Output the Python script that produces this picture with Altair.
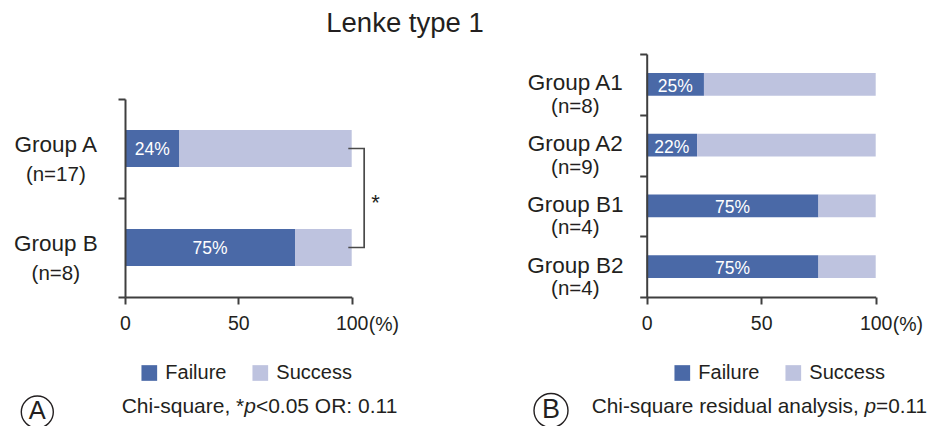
import altair as alt
import pandas as pd

FONT = "Liberation Sans"
INK = "#231f20"
AXIS_INK = "#3f3f3f"

# ---- data -------------------------------------------------------------
panel_a_groups = ["Group A", "Group B"]
panel_a_n = [17, 8]
panel_a_failure = [24, 75]

panel_b_groups = ["Group A1", "Group A2", "Group B1", "Group B2"]
panel_b_n = [8, 9, 4, 4]
panel_b_failure = [25, 22, 75, 75]

outcomes = ["Failure", "Success"]
outcome_colors = ["#4a69a7", "#bec3df"]
x_ticks = [0, 50, 100]

BAR_HALF = 0.188  # half bar thickness, in category units


def segments(groups, counts, failure):
    rows = []
    k = len(groups)
    for i, (g, n, f) in enumerate(zip(groups, counts, failure)):
        pos = k - i - 0.5
        common = dict(group=g, n=f"(n={n})", pos=pos,
                      lo=pos - BAR_HALF, hi=pos + BAR_HALF)
        rows.append(dict(common, outcome="Failure", start=0, end=f,
                         mid=f / 2, pct=f"{f}%"))
        rows.append(dict(common, outcome="Success", start=f, end=100,
                         mid=(f + 100) / 2, pct=f"{100 - f}%"))
    return pd.DataFrame(rows)


def panel(df, x_range, y_top, label_x, name_dy, n_dy, pct_dy, legend_x):
    """Layers of one stacked-bar panel; every layer carries the same scales."""
    k = df["group"].nunique()
    x_scale = alt.Scale(domain=[0, 100], range=x_range, nice=False, zero=False)
    y_scale = alt.Scale(domain=[0, k], range=[297, y_top], nice=False, zero=False)

    def X(field, **kw):
        return alt.X(field, scale=x_scale, **({"axis": None} | kw))

    def Y(field, **kw):
        return alt.Y(field, scale=y_scale, **({"axis": None} | kw))

    bars = alt.Chart(df).mark_bar().encode(
        x=X("start:Q", axis=alt.Axis(
            values=x_ticks, orient="bottom", grid=False,
            title="(%)", titleX=x_range[1] + 16.5, titleY=33,
            titleAlign="left", titleBaseline="alphabetic", titleAngle=0,
            titleFont=FONT, titleFontSize=19.5, titleFontWeight="normal",
            titleColor=INK,
            domainColor=AXIS_INK, domainWidth=2, tickColor=AXIS_INK,
            tickWidth=2, tickSize=7, labelFont=FONT, labelFontSize=19.5,
            labelColor=INK, labelPadding=10, labelFlush=False,
            labelOverlap=False, zindex=1,
            labelExpr="datum.value == 100 ? '100\u00a0\u00a0' : datum.label")),
        x2="end:Q",
        y=Y("lo:Q", axis=alt.Axis(
            values=list(range(k + 1)), orient="left", offset=-x_range[0],
            labels=False, title=None, grid=False, domainColor=AXIS_INK,
            domainWidth=2, tickColor=AXIS_INK, tickWidth=2, tickSize=7,
            zindex=1)),
        y2="hi:Q",
        color=alt.Color("outcome:N",
                        scale=alt.Scale(domain=outcomes, range=outcome_colors),
                        legend=alt.Legend(
                            title=None, orient="none", legendX=legend_x,
                            legendY=363, direction="horizontal",
                            symbolType="square", symbolSize=246,
                            symbolStrokeWidth=0, labelFont=FONT,
                            labelFontSize=20, labelColor=INK, labelOffset=6,
                            columnPadding=23, padding=0)),
    )

    fail = df[df["outcome"] == "Failure"]
    pct = alt.Chart(fail).mark_text(
        font=FONT, fontSize=17.5, color="white", baseline="alphabetic",
        dy=pct_dy).encode(x=X("mid:Q"), y=Y("pos:Q"), text="pct:N")

    names = alt.Chart(fail).mark_text(
        font=FONT, fontSize=22.5, color=INK, align="center",
        baseline="alphabetic", dy=name_dy).encode(
        x=alt.value(label_x), y=Y("pos:Q"), text="group:N")

    counts = alt.Chart(fail).mark_text(
        font=FONT, fontSize=20.5, color=INK, align="center",
        baseline="alphabetic", dy=n_dy).encode(
        x=alt.value(label_x), y=Y("pos:Q"), text="n:N")

    return [bars, pct, names, counts], X, Y


df_a = segments(panel_a_groups, panel_a_n, panel_a_failure)
df_b = segments(panel_b_groups, panel_b_n, panel_b_failure)

left_layers, XA, YA = panel(df_a, [125, 351.7], 99, 55.8, 3, 32, 6, 139.3)
right_layers, _, _ = panel(df_b, [646.7, 875.7], 54, 575.3, 6, 28.4, 7.4, 672.3)

# significance bracket joining Group A and Group B
pos_a = df_a.loc[df_a["group"] == "Group A", "pos"].iloc[0]
pos_b = df_a.loc[df_a["group"] == "Group B", "pos"].iloc[0]
bracket_df = pd.DataFrame({
    "x": [98.5, 105.5, 105.5, 98.5],
    "y": [pos_a, pos_a, pos_b, pos_b],
    "o": [0, 1, 2, 3],
})
bracket = alt.Chart(bracket_df).mark_line(color="#4a4a4a", strokeWidth=1.7).encode(
    x=XA("x:Q"), y=YA("y:Q"), order="o:O")
star = alt.Chart(pd.DataFrame({"t": ["*"], "x": [110.5], "y": [(pos_a + pos_b) / 2]})).mark_text(
    font=FONT, fontSize=22, color=INK, baseline="alphabetic", dy=11.5).encode(
    x=XA("x:Q"), y=YA("y:Q"), text="t:N")


def note(text, x, y, size, align="left", style="normal"):
    return alt.Chart(pd.DataFrame({"t": [text]})).mark_text(
        font=FONT, fontSize=size, color=INK, align=align,
        baseline="alphabetic", fontStyle=style).encode(
        x=alt.value(x), y=alt.value(y), text="t:N")


def ring(x, y, d):
    return alt.Chart(pd.DataFrame({"t": [0]})).mark_point(
        shape="circle", filled=False, size=d * d, color=INK, strokeWidth=1.4,
        opacity=1).encode(x=alt.value(x), y=alt.value(y))


annotations = [
    note("Lenke type 1", 405, 32.3, 27.5, align="center"),
    ring(37.3, 412, 32), note("A", 37.3, 419, 25.5, align="center"),
    note("Chi-square, *", 121.7, 413.3, 21),
    note("p", 244.2, 413.3, 21, style="italic"),
    note("<0.05 OR: 0.11", 255.9, 413.3, 21),
    ring(551, 410.5, 34), note("B", 551, 418, 27, align="center"),
    note("Chi-square residual analysis, ", 591.7, 413.3, 20.8),
    note("p", 864.5, 413.3, 20.8, style="italic"),
    note("=0.11", 876.1, 413.3, 20.8),
]

chart = alt.layer(
    *left_layers, bracket, star, *right_layers, *annotations
).resolve_scale(
    x="independent", y="independent", color="independent"
).resolve_axis(
    x="independent", y="independent"
).properties(
    width=927, height=297,
    autosize=alt.AutoSizeParams(type="none"),
    padding={"left": 0, "top": 0, "right": 0, "bottom": 129},
).configure_view(stroke=None)

chart.save("out.html", embed_options={"renderer": "svg", "actions": False})
